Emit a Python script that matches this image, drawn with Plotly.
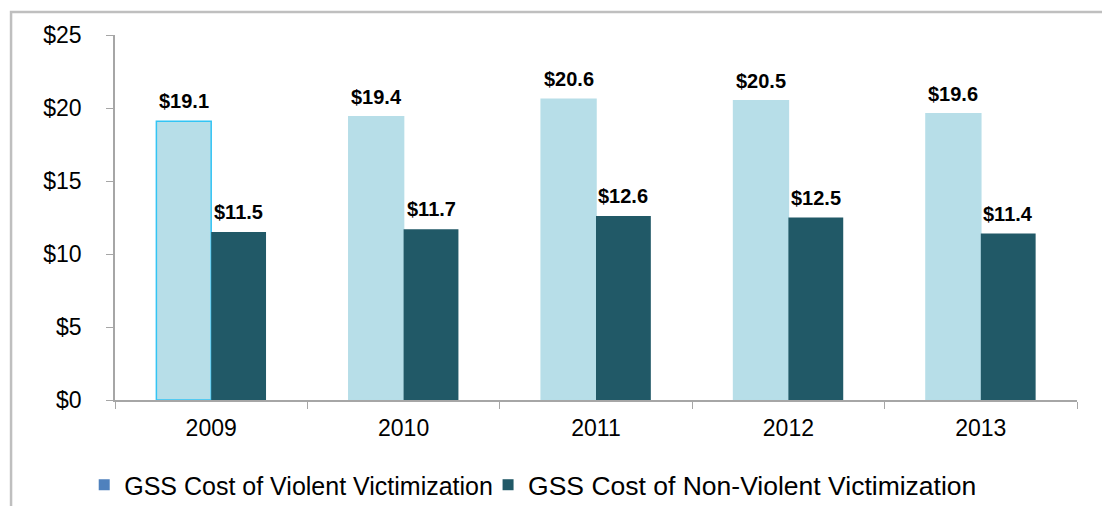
import plotly.graph_objects as go

years = ["2009", "2010", "2011", "2012", "2013"]
violent = [19.1, 19.4, 20.6, 20.5, 19.6]
non_violent = [11.5, 11.7, 12.6, 12.5, 11.4]
series_names = ["GSS Cost of Violent Victimization", "GSS Cost of Non-Violent Victimization"]
y_ticks = [0, 5, 10, 15, 20, 25]
y_tick_labels = ["$0", "$5", "$10", "$15", "$20", "$25"]

LIGHT = "#b7dee8"
DARK = "#215967"
LEGEND_LIGHT = "#4f81bd"
FONT = "Liberation Sans, Arial, sans-serif"

W, H = 1110, 506
ML, MR, MT, MB = 107, 40.5, 27, 114
plot_w = W - ML - MR
plot_h = H - MT - MB
cat_w = plot_w / len(years)
bargap = 0.43
bar_w = cat_w * (1 - bargap) / 2
legend_y = (H - MB - 477) / plot_h

fig = go.Figure()
line_cols = ["#33c4f4"] + [LIGHT] * (len(years) - 1)
fig.add_trace(go.Bar(x=years, y=violent, name=series_names[0],
                     marker=dict(color=LIGHT, line=dict(color=line_cols, width=1.5)), showlegend=False))
fig.add_trace(go.Bar(x=years, y=non_violent, name=series_names[1],
                     marker=dict(color=DARK, line=dict(width=0)), showlegend=False))

# legend entries (on hidden axes)
fig.add_trace(go.Scatter(x=[None], y=[None], mode="markers", name=series_names[0], xaxis="x2", yaxis="y2",
                         legend="legend",
                         marker=dict(symbol="square", size=11, color=LEGEND_LIGHT)))
fig.add_trace(go.Scatter(x=[None], y=[None], mode="markers", name=series_names[1], xaxis="x2", yaxis="y2",
                         legend="legend2",
                         marker=dict(symbol="square", size=11, color=DARK)))

annotations = []
for vals, sh in ((violent, -bar_w / 2), (non_violent, bar_w / 2)):
    for i, v in enumerate(vals):
        annotations.append(dict(x=i, y=v, xref="x", yref="y", text=f"<b>${v:.1f}</b>", showarrow=False,
                                xshift=sh, yshift=7, yanchor="bottom",
                                font=dict(family=FONT, size=20, color="#000000")))

fig.update_layout(
    width=W, height=H,
    margin=dict(l=ML, r=MR, t=MT, b=MB, autoexpand=False),
    paper_bgcolor="white", plot_bgcolor="white",
    barmode="group", bargap=bargap, bargroupgap=0,
    font=dict(family=FONT, size=23, color="#000000"),
    annotations=annotations,
    showlegend=True,
    legend=dict(orientation="h", x=-0.032, y=legend_y, xanchor="left", yanchor="middle",
                bgcolor="rgba(0,0,0,0)",
                font=dict(family=FONT, size=25, color="#000000"), itemwidth=30),
    legend2=dict(orientation="h", x=0.3878, y=legend_y, xanchor="left", yanchor="middle",
                 bgcolor="rgba(0,0,0,0)",
                 font=dict(family=FONT, size=26.5, color="#000000"), itemwidth=30),
    xaxis2=dict(overlaying="x", visible=False),
    yaxis2=dict(overlaying="y", visible=False),
    shapes=[dict(type="rect", xref="paper", yref="paper",
                 x0=(3 - ML) / plot_w, x1=1.2, y0=-0.6,
                 y1=(H - MB - 4) / plot_h,
                 line=dict(color="#bfbfbf", width=2.5), layer="below")],
    xaxis=dict(type="category", categoryorder="array", categoryarray=years, range=[-0.5, len(years) - 0.5],
               showline=True, linecolor="#a6a6a6", linewidth=1.5, ticks="outside", tickson="boundaries",
               ticklen=7, tickcolor="#a6a6a6", showgrid=False, tickfont=dict(size=23),
               ticklabelstandoff=7),
    yaxis=dict(range=[0, 25], tickmode="array", tickvals=y_ticks, ticktext=y_tick_labels,
               showline=True, linecolor="#a6a6a6", linewidth=1.5, ticks="outside", ticklen=7,
               tickcolor="#a6a6a6", showgrid=False, zeroline=False, ticklabelstandoff=20,
               tickfont=dict(size=23)),
)

fig.write_html("out.html")
